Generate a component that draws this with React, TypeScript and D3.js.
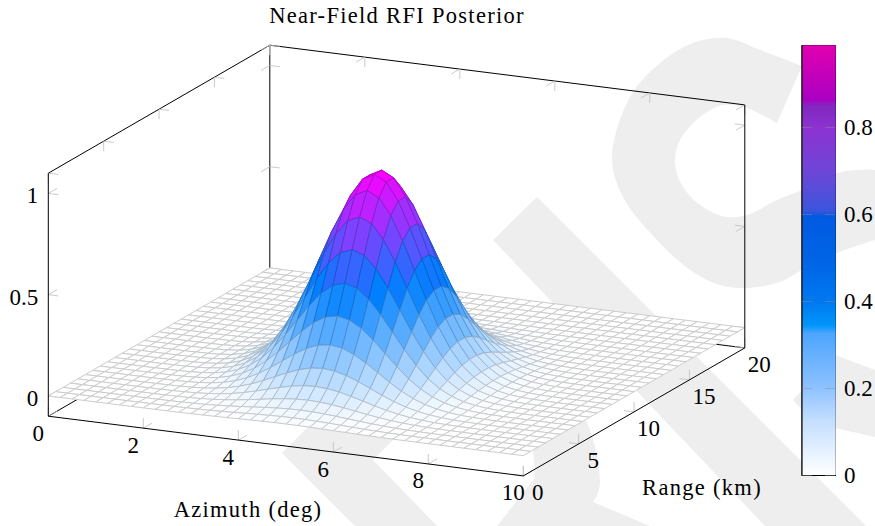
import * as d3 from 'd3';

const WIDTH = 875;
const HEIGHT = 526;
const FONT = '"Liberation Serif", serif';

// cross sections of the bump through its crest
const azimuthProfile = [
  0, 0, 0, 0, 0, 0.001, 0.002, 0.005, 0.011, 0.023, 0.044, 0.08, 0.135, 0.216, 0.325,
  0.458, 0.607, 0.755, 0.882, 0.969, 1,
  0.969, 0.882, 0.755, 0.607, 0.458, 0.325, 0.216, 0.135, 0.08, 0.044,
  0.023, 0.011, 0.005, 0.002, 0.001, 0, 0, 0, 0, 0,
];
const rangeProfile = [
  0.009, 0.018, 0.035, 0.063, 0.11, 0.178, 0.273, 0.395, 0.535, 0.68,
  0.82, 0.93, 0.9885, 0.9885, 0.92, 0.79, 0.63, 0.47, 0.33, 0.21,
  0.125, 0.07, 0.037, 0.018, 0.008, 0.003, 0.001, 0, 0, 0, 0,
];

const xTicks = [0, 2, 4, 6, 8, 10];
const yTicks = [0, 5, 10, 15, 20];
const zTicks = [0, 0.5, 1];
const zTickLabels = ['0', '0.5', '1'];
const barTicks = [0, 0.2, 0.4, 0.6, 0.8];
const barTickLabels = ['0', '0.2', '0.4', '0.6', '0.8'];

const barStops = [0, 0.126, 0.2, 0.326, 0.345, 0.4, 0.494, 0.595, 0.61, 0.7, 0.8, 0.85, 0.865, 0.9885];
const barColors = [
  '#ffffff', '#c3deff', '#8fc2ff', '#4ca5ff', '#0096fa', '#0078f0', '#0064e6', '#005ae1',
  '#3c55dc', '#6e46d7', '#8c32d2', '#8228be', '#aa00c3', '#e100b0',
];

const META_MAX = 0.9885;

// unit positions along the box edges
const ux = d3.scaleLinear().domain([0, 10]).range([0, 1]);
const uy = d3.scaleLinear().domain([0, 20]).range([0, 1]);
const uz = d3.scaleLinear().domain([-0.1, 1.1]).range([0, 1]);

const project = (x: number, y: number, z: number): [number, number] => [
  48.3 + 475 * ux(x) + 221.5 * uy(y),
  416.2 + 59.7 * ux(x) - 128 * uy(y) - 243 * uz(z),
];

const gridX = d3.scaleLinear().domain([0, azimuthProfile.length - 1]).range([0, 10]);
const gridY = d3.scaleLinear().domain([0, rangeProfile.length - 1]).range([0, 20]);

const surfaceColor = d3
  .scaleLinear<string>()
  .domain([0, META_MAX / 2, META_MAX])
  .range(['#ffffff', 'rgb(0,128,255)', 'rgb(255,0,255)']);

const barY = d3.scaleLinear().domain([0, META_MAX]).range([475.5, 45.5]);

const seg = (a: [number, number], b: [number, number]) => `M${a[0]},${a[1]}L${b[0]},${b[1]}`;

// background watermark
const smooth = d3.line().curve(d3.curveCatmullRom);
const sOuter: [number, number][] = [
  [802, 66], [760, 50], [727, 38], [693, 43], [660, 63], [630, 97], [612, 157], [623, 197],
  [657, 240], [693, 272], [720, 285], [747, 288], [780, 282], [802, 270], [837, 253], [875, 240],
];
const sInner: [number, number][] = [
  [875, 170], [860, 170], [838, 173], [802, 190], [777, 200], [747, 215], [727, 217], [703, 207],
  [683, 187], [675, 163], [680, 140], [700, 117], [723, 105], [747, 108], [777, 123],
];
const watermark = [
  `${smooth(sOuter)}L${(smooth(sInner) as string).slice(1)}Z`,
  'M493,240L537,197L875,535L875,526L765,526Z',
  'M282,453L330,405L395,420L393,440L373,460L437,526L355,526Z',
  'M497,526L535,478L533,450L560,400L587,422Q600,455 600,483Q599,495 593,502L650,526Z',
  'M793,400L835,355L875,370L875,437L835,428L812,420Z',
];

function Ticks() {
  const TX: [number, number] = [10, 1.25];
  const TY: [number, number] = [8.7, -5];
  const TZ: [number, number] = [0, -10];
  const two = (p: [number, number], a: [number, number], b: [number, number], sa: number, sb: number) =>
    seg(p, [p[0] + sa * a[0], p[1] + sa * a[1]]) + seg(p, [p[0] + sb * b[0], p[1] + sb * b[1]]);
  const d = [
    ...xTicks.map((x) => two(project(x, 0, -0.1), TZ, TY, 1, 1)),
    ...xTicks.map((x) => two(project(x, 20, 1.1), TZ, TY, -1, -1)),
    ...yTicks.map((y) => two(project(10, y, -0.1), TZ, TX, 1, -1)),
    ...yTicks.map((y) => two(project(0, y, 1.1), TZ, TX, -1, 1)),
    ...zTicks.map((z) => two(project(0, 0, z), TX, TY, 1, 1)),
    ...zTicks.map((z) => two(project(0, 20, z), TX, TY, 1, -1)),
    ...zTicks.map((z) => two(project(10, 20, z), TX, TY, -1, -1)),
  ].join('');
  return <path d={d} fill="none" stroke="#bdbdbd" strokeWidth={0.8} />;
}

function Surface() {
  const cells = [];
  const zAt = (i: number, j: number) => azimuthProfile[i] * rangeProfile[j];
  for (let i = 0; i < azimuthProfile.length - 1; i++) {
    for (let j = rangeProfile.length - 2; j >= 0; j--) {
      const corners: [number, number][] = [[i, j], [i + 1, j], [i + 1, j + 1], [i, j + 1]];
      const mean = d3.mean(corners, ([a, b]) => zAt(a, b)) as number;
      const pts = corners.map(([a, b]) => project(gridX(a), gridY(b), zAt(a, b)));
      const fill = surfaceColor(mean);
      cells.push(
        <path
          key={`${i}-${j}`}
          d={`M${pts.join('L')}Z`}
          fill={fill}
          stroke={d3.interpolateRgb(fill, '#000')(0.2)}
          strokeWidth={1}
          strokeLinejoin="round"
        />,
      );
    }
  }
  return <g>{cells}</g>;
}

export default function App() {
  const textProps = { fontFamily: FONT, fill: '#000' };
  const top00 = project(0, 0, 1.1);
  const top02 = project(0, 20, 1.1);
  const top12 = project(10, 20, 1.1);
  const bot00 = project(0, 0, -0.1);
  const bot10 = project(10, 0, -0.1);
  const bot12 = project(10, 20, -0.1);
  const bot02 = project(0, 20, -0.1);

  return (
    <svg
      width={WIDTH}
      height={HEIGHT}
      viewBox={`0 0 ${WIDTH} ${HEIGHT}`}
      style={{ position: 'absolute', left: 0, top: 0, display: 'block' }}
    >
      <defs>
        <linearGradient id="barGrad" x1="0" y1="1" x2="0" y2="0">
          {barStops.map((s, i) => (
            <stop key={i} offset={`${(s / META_MAX) * 100}%`} stopColor={barColors[i]} />
          ))}
        </linearGradient>
      </defs>
      <rect width={WIDTH} height={HEIGHT} fill="#fff" />
      {watermark.map((d, i) => (
        <path key={i} d={d} fill="#eeeeee" />
      ))}

      {/* back of the box, hidden by the surface where they cross */}
      <path
        d={seg(top00, top02) + seg(top02, top12) + seg(top02, bot02) + seg(bot00, bot02) + seg(bot12, bot02)}
        fill="none"
        stroke="#000"
        strokeWidth={1}
      />
      <Ticks />
      <Surface />

      {/* front edges */}
      <path
        d={seg(bot00, bot10) + seg(bot10, bot12) + seg(bot00, top00) + seg(bot12, top12)}
        fill="none"
        stroke="#000"
        strokeWidth={1}
      />

      <text {...textProps} x={397} y={23} fontSize={22.5} letterSpacing={1.3} textAnchor="middle">
        Near-Field RFI Posterior
      </text>
      {xTicks.map((x) => {
        const [px, py] = project(x, 0, -0.1);
        return (
          <text key={x} {...textProps} x={px - 10} y={py + 24.5} fontSize={23} textAnchor="middle">
            {x}
          </text>
        );
      })}
      {yTicks.map((y) => {
        const [px, py] = project(10, y, -0.1);
        return (
          <text key={y} {...textProps} x={px + 14.5} y={py + 24} fontSize={23} textAnchor="middle">
            {y}
          </text>
        );
      })}
      {zTicks.map((z, i) => {
        const [px, py] = project(0, 0, z);
        return (
          <text key={z} {...textProps} x={px - 10} y={py + 10} fontSize={23} textAnchor="end">
            {zTickLabels[i]}
          </text>
        );
      })}
      <text {...textProps} x={248} y={517} fontSize={22.5} letterSpacing={1.3} textAnchor="middle">
        Azimuth (deg)
      </text>
      <text {...textProps} x={702} y={495} fontSize={22.5} letterSpacing={1.3} textAnchor="middle">
        Range (km)
      </text>

      {/* colour bar */}
      <rect x={802} y={45.5} width={33.5} height={430} fill="none" stroke="#000" strokeWidth={1} />
      <rect x={802.5} y={45} width={33.5} height={430} fill="url(#barGrad)" opacity={0.75} />
      <rect x={802.5} y={46} width={32.5} height={429} fill="url(#barGrad)" />
      <path d={seg([802, 45.5], [802, 475.5]) + seg([802, 475.5], [835.5, 475.5])} stroke="#000" strokeWidth={1} fill="none" />
      {barTicks.map((t, i) => (
        <g key={t}>
          <path
            d={seg([802, barY(t)], [812, barY(t)]) + seg([825, barY(t)], [835, barY(t)])}
            stroke="#8c8c8c"
            strokeOpacity={0.6}
            strokeWidth={0.8}
          />
          <text {...textProps} x={844} y={barY(t) + 7.5} fontSize={23}>
            {barTickLabels[i]}
          </text>
        </g>
      ))}
    </svg>
  );
}
